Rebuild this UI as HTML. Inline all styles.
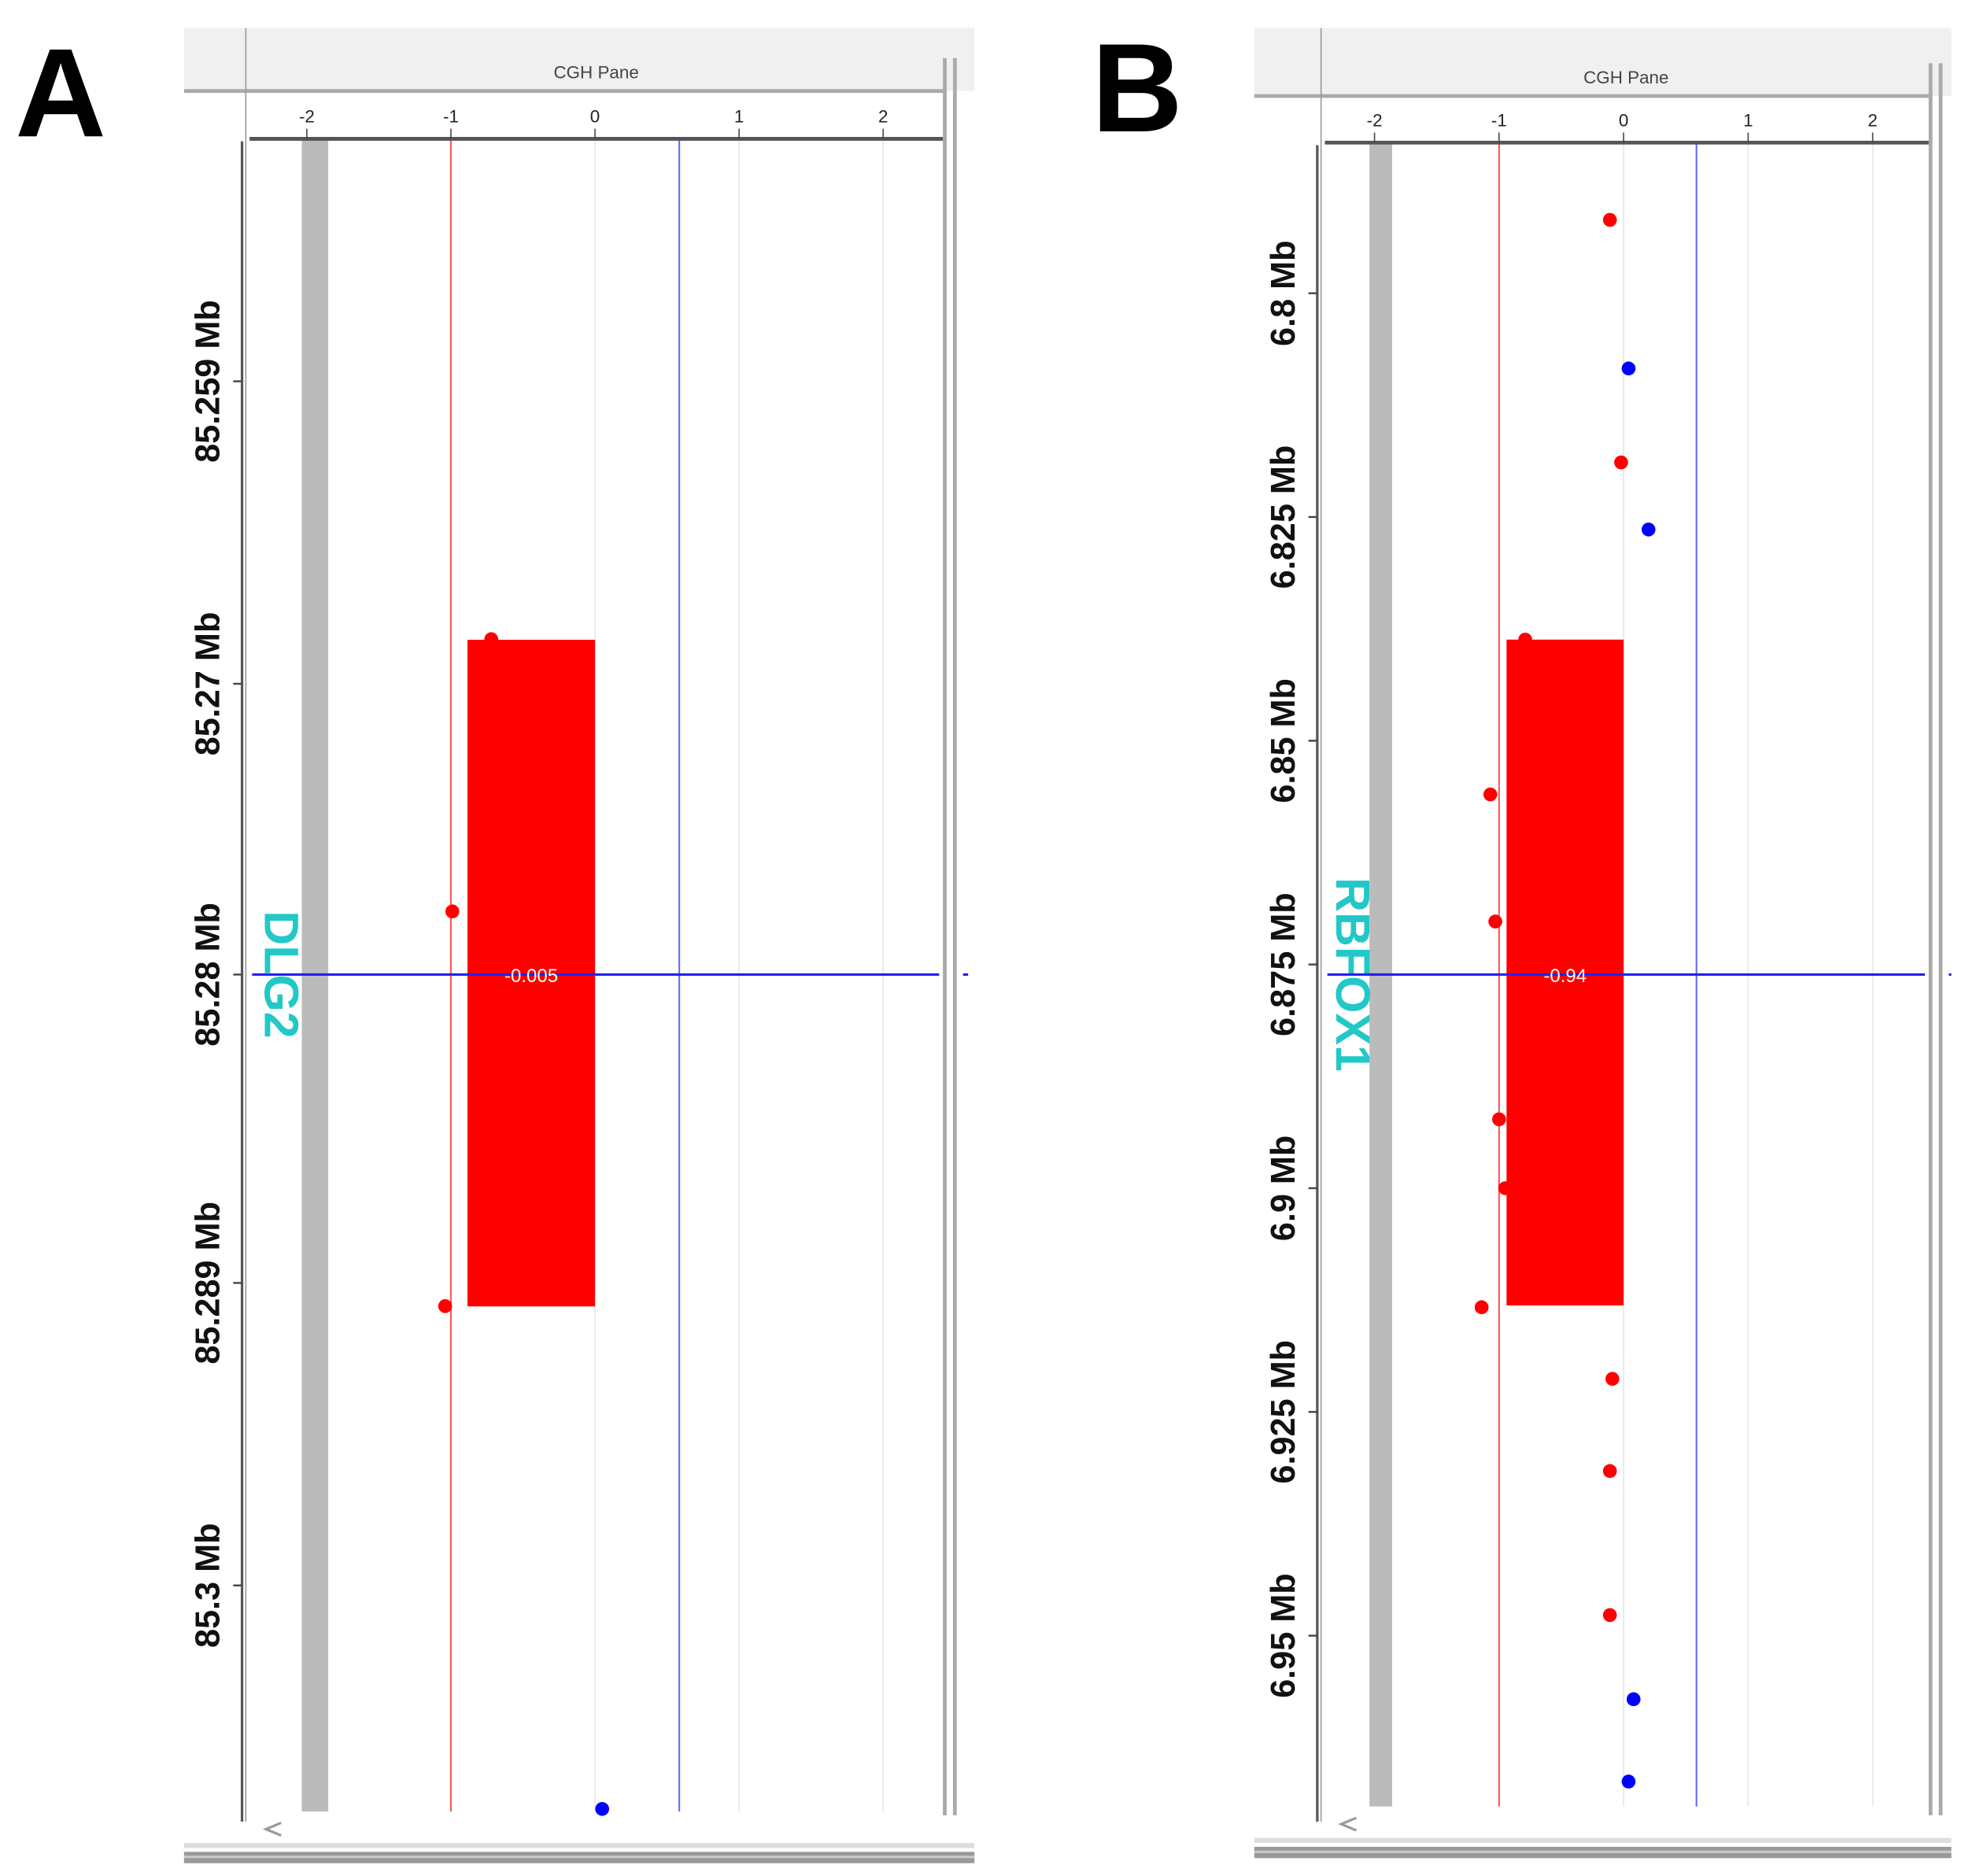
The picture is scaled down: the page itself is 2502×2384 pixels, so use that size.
<!DOCTYPE html>
<html><head><meta charset="utf-8"><style>
html,body{margin:0;padding:0;background:#fff;}
svg{display:block;}
text{font-family:"Liberation Sans",sans-serif;}
</style></head><body>
<svg id="fig" width="2502" height="2384" viewBox="0 0 1562 1488">
<rect x="0" y="0" width="1562" height="1488" fill="#fff"/>
<text x="12" y="108" font-size="100" font-weight="bold" fill="#000">A</text>
<text x="866" y="104" font-size="100" font-weight="bold" fill="#000">B</text>
</svg>
<script>
// ---- Panel A data ----
const aXTicks = [-2, -1, 0, 1, 2];
const aYTickValues = [85.2598, 85.2701, 85.2800, 85.2905, 85.3008];
const aYTickLabels = ["85.259 Mb", "85.27 Mb", "85.28 Mb", "85.289 Mb", "85.3 Mb"];
const aPointPos = [85.26858, 85.27785, 85.29129, 85.30841];
const aPointVal = [-0.72, -0.99, -1.04, 0.05];
const aSegStart = [85.2686];
const aSegEnd = [85.2913];
const aSegVal = [-0.885];
const aSegLabel = ["-0.005"];
const aGene = ["DLG2"];
const aCursor = [85.2800];

// ---- Panel B data ----
const bXTicks = [-2, -1, 0, 1, 2];
const bYTickValues = [6.8, 6.825, 6.85, 6.875, 6.9, 6.925, 6.95];
const bYTickLabels = ["6.8 Mb", "6.825 Mb", "6.85 Mb", "6.875 Mb", "6.9 Mb", "6.925 Mb", "6.95 Mb"];
const bPointPos = [6.7918, 6.8084, 6.8189, 6.8264, 6.8387, 6.8560, 6.8702, 6.8923, 6.9000, 6.9133, 6.9213, 6.9316, 6.9477, 6.9571, 6.9663];
const bPointVal = [-0.11, 0.04, -0.02, 0.2, -0.79, -1.07, -1.03, -1.0, -0.95, -1.14, -0.09, -0.11, -0.11, 0.08, 0.04];
const bSegStart = [6.8387];
const bSegEnd = [6.9131];
const bSegVal = [-0.94];
const bSegLabel = ["-0.94"];
const bGene = ["RBFOX1"];
const bCursor = [6.876];

const NS = "http://www.w3.org/2000/svg";
const svg = document.getElementById('fig');
function mk(tag, attrs, parent, txt) {
  const e = document.createElementNS(NS, tag);
  for (const k in attrs) e.setAttribute(k, attrs[k]);
  if (txt !== undefined) e.textContent = txt;
  (parent || svg).appendChild(e);
  return e;
}

function panel(p, d) {
  const g = mk('g', {});
  
  
  const xs = v => p.x0 + v * p.xk;
  const ys = v => p.yRef + (v - p.vRef) * p.yk;

  let e;
  // header
  e = mk('rect', {x: p.L, y: 22, width: p.R - p.L, height: p.hb - 22, fill: '#f0f0f0'}, g);
   
  e = mk('line', {x1: p.L, y1: p.hb, x2: p.rl, y2: p.hb, stroke: '#aaa', 'stroke-width': 3}, g);
   
  e = mk('line', {x1: p.sep, y1: 22, x2: p.sep, y2: 1445, stroke: '#999', 'stroke-width': 1}, g);
   
  e = mk('text', {x: p.titleX, y: p.hb - 10, 'font-size': 14, fill: '#444', 'text-anchor': 'middle'}, g, 'CGH Pane');
   

  // right frame lines
  e = mk('rect', {x: p.rl, y: p.hb - 26, width: 3, height: 1440 - p.hb + 26, fill: '#aaa'}, g);
   
  e = mk('rect', {x: p.rl + 8, y: p.hb - 26, width: 3, height: 1440 - p.hb + 26, fill: '#aaa'}, g);
   

  // gridlines
  aXTicks.forEach(t => {
    if (t === 0 || t > 0) {
      const gl = mk('line', {x1: xs(t), y1: p.ax, x2: xs(t), y2: p.bottom, stroke: '#e6e6e6', 'stroke-width': 1}, g);
       
    }
  });
  // gray band at -2
  e = mk('rect', {x: xs(-2) - 4, y: p.ax, width: p.bandW, height: p.bottom - p.ax, fill: '#bbb'}, g);
   
  // threshold lines
  e = mk('line', {x1: xs(-1), y1: p.ax, x2: xs(-1), y2: p.bottom, stroke: '#f55', 'stroke-width': 1.3}, g);
   
  e = mk('line', {x1: xs(0.585), y1: p.ax, x2: xs(0.585), y2: p.bottom, stroke: '#66f', 'stroke-width': 1.3}, g);
   

  // x axis
  e = mk('line', {x1: p.sep + 3, y1: p.ax, x2: p.rl, y2: p.ax, stroke: '#555', 'stroke-width': 3}, g);
   
  d.xt.forEach(t => {
    const tk = mk('line', {x1: xs(t), y1: p.ax - 8, x2: xs(t), y2: p.ax, stroke: '#444', 'stroke-width': 1}, g);
     
    const tl = mk('text', {x: xs(t), y: p.ax - 13, 'font-size': 14, fill: '#222', 'text-anchor': 'middle'}, g, String(t));
     
  });

  // y axis
  e = mk('line', {x1: p.yAx, y1: p.ax + 2, x2: p.yAx, y2: 1445, stroke: '#555', 'stroke-width': 2}, g);
   
  d.yv.forEach((v, i) => {
    const y = ys(v);
    const tk = mk('line', {x1: p.yAx - 7, y1: y, x2: p.yAx, y2: y, stroke: '#444', 'stroke-width': 1.5}, g);
     
    const tl = mk('text', {x: 0, y: 0, 'font-size': 27, 'font-weight': 'bold', fill: '#111', 'text-anchor': 'middle',
      transform: `translate(${p.yAx - 18},${y}) rotate(-90)`}, g, d.yl[i]);
     
  });

  // segment
  d.ss.forEach((s, i) => {
    const y1 = ys(s), y2 = ys(d.se[i]);
    const r = mk('rect', {x: xs(d.sv[i]), y: y1, width: xs(0) - xs(d.sv[i]), height: y2 - y1, fill: '#ff0000'}, g);
     
  });

  // gene label
  e = mk('text', {x: 0, y: 0, 'font-size': 38, 'font-weight': 'bold', fill: '#22c8c8', 'text-anchor': 'middle',
    transform: `translate(${p.geneX},${p.cursorY}) rotate(90)`}, g, d.gene[0]);
   

  // cursor line
  e = mk('line', {x1: p.sep + 5, y1: p.cursorY, x2: p.rl - 3, y2: p.cursorY, stroke: '#2222ee', 'stroke-width': 2}, g);
   
  e = mk('line', {x1: p.rl + 16, y1: p.cursorY, x2: p.R, y2: p.cursorY, stroke: '#2222ee', 'stroke-width': 2, 'stroke-dasharray': '4 5'}, g);
   

  // segment label
  d.ss.forEach((s, i) => {
    const t = mk('text', {x: (xs(d.sv[i]) + xs(0)) / 2, y: p.cursorY + 6, 'font-size': 15, fill: '#fff', 'text-anchor': 'middle'}, g, d.sl[i]);
     
  });

  // points
  d.pp.forEach((v, i) => {
    const val = d.pv[i];
    const c = mk('circle', {cx: xs(val), cy: ys(v), r: 5.5, fill: val < 0 ? '#ff0000' : '#0000ff'}, g);
     
  });

  // bottom scrollbar
  e = mk('path', {d: `M${p.sep + 28},${p.bottom + 9} L${p.sep + 16},${p.bottom + 14} L${p.sep + 28},${p.bottom + 19}`, fill: 'none', stroke: '#999', 'stroke-width': 2}, g);
   
  e = mk('rect', {x: p.L, y: p.sb, width: p.R - p.L, height: 4, fill: '#ddd'}, g);
   
  e = mk('rect', {x: p.L, y: p.sb + 7, width: p.R - p.L, height: 9, fill: '#999'}, g);
   
  e = mk('rect', {x: p.L, y: p.sb + 10, width: p.R - p.L, height: 2, fill: '#c8c8c8'}, g);
   
}

panel({name: 'panel-a', L: 146, R: 773, hb: 72, sep: 195, titleX: 473, rl: 748, ax: 110, bottom: 1437,
  x0: 472, xk: 114.3, yRef: 773, vRef: 85.28, yk: 23300, bandW: 21, yAx: 192, geneX: 210, cursorY: 773, sb: 1462},
  {xt: aXTicks, yv: aYTickValues, yl: aYTickLabels, pp: aPointPos, pv: aPointVal, ss: aSegStart, se: aSegEnd, sv: aSegVal, sl: aSegLabel, gene: aGene});

panel({name: 'panel-b', L: 995, R: 1548, hb: 76, sep: 1048, titleX: 1290, rl: 1530, ax: 113, bottom: 1433,
  x0: 1288, xk: 98.8, yRef: 765, vRef: 6.875, yk: 7100, bandW: 18, yAx: 1045, geneX: 1060, cursorY: 773, sb: 1458},
  {xt: bXTicks, yv: bYTickValues, yl: bYTickLabels, pp: bPointPos, pv: bPointVal, ss: bSegStart, se: bSegEnd, sv: bSegVal, sl: bSegLabel, gene: bGene});
</script>
</body></html>
